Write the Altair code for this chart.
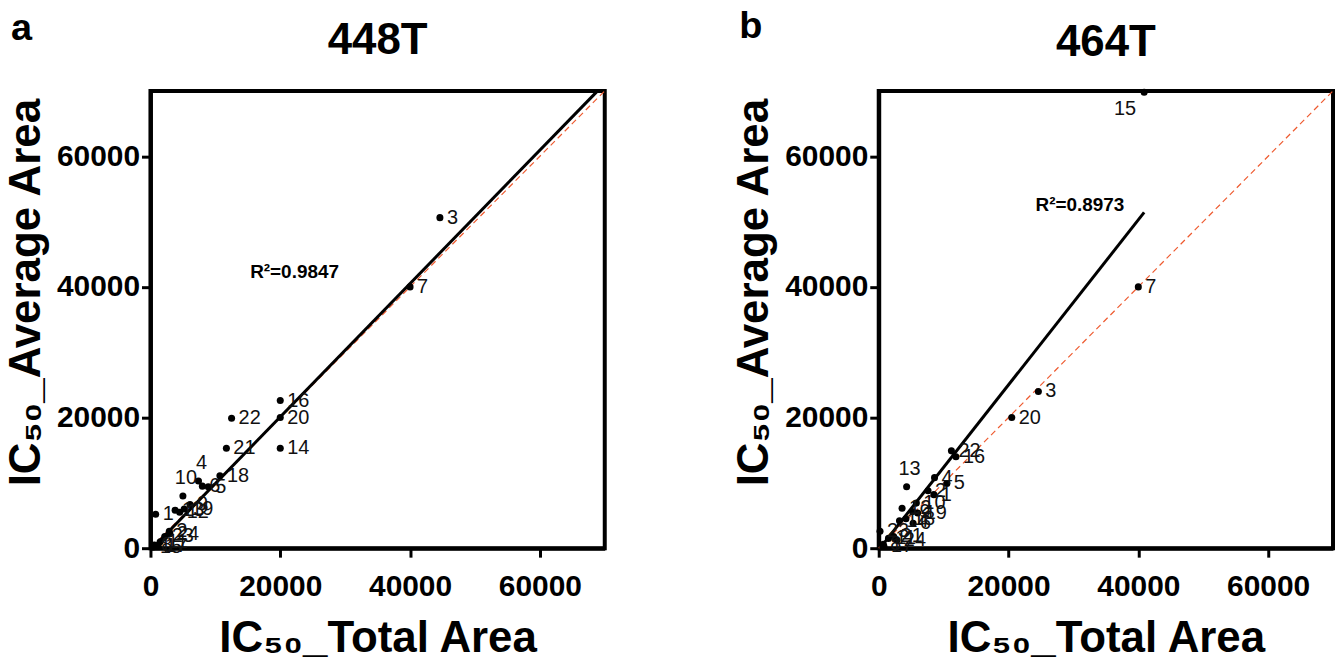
import altair as alt
import pandas as pd

ids = [str(i) for i in range(1, 25)]

# Panel a (448T)
a_total = [800, 2900, 44600, 7400, 8900, 8000, 40000, 600, 6100, 5000, 1500, 4500,
           3800, 20000, 400, 20000, 1200, 10700, 5200, 20000, 11700, 12500, 2200, 3000]
a_avg = [5200, 2600, 50600, 10300, 9400, 9500, 40000, 500, 6700, 8000, 1000, 5500,
         5800, 15300, 200, 22600, 300, 11100, 6000, 20000, 15300, 19900, 1800, 2200]
a_above = ["4", "10"]
a_below = []

# Panel b (464T)
b_total = [8500, 7600, 24600, 8600, 10500, 5300, 40000, 700, 5200, 5800, 1500, 3600,
           4300, 3200, 40900, 11900, 800, 4200, 6000, 20500, 2300, 11200, 200, 2800]
b_avg = [8200, 8800, 24000, 10800, 9900, 3800, 40000, 600, 5600, 6900, 1500, 6100,
         9400, 4200, 69800, 14000, 300, 4500, 5400, 20000, 1800, 14900, 2600, 1200]
b_above = ["13"]
b_below = ["15"]

# fitted lines (end points) and identity line
a_fit_x = [300, 68900]
a_fit_y = [0, 70000]
b_fit_x = [200, 40900]
b_fit_y = [0, 51400]
ident = [0, 70000]

tick_vals = [0, 20000, 40000, 60000]
dom = [0, 70000]

SANS = "Liberation Sans, Arial, Helvetica"
W, H = 456, 459


def axis(title, orient):
    kw = dict(values=tick_vals, format="d", title=title, grid=False,
              titleFontSize=44, titleFont=SANS, titleFontWeight="bold",
              titleColor="black", labelFontSize=30, labelFont=SANS,
              labelFontWeight="bold", labelColor="black", tickSize=9,
              tickWidth=3, tickColor="black", domainWidth=4,
              domainColor="black", labelFlush=False)
    if orient == "y":
        kw.update(labelPadding=2, titlePadding=8, titleY=202)
    else:
        kw.update(labelPadding=14, titlePadding=16)
    return alt.Axis(**kw)


def panel(total, avg, title, letter, fit_x, fit_y, r2, r2x, r2y, above_ids, below_ids,
          letter_y, title_y):
    df = pd.DataFrame({"id": ids, "total": total, "avg": avg})
    xs = alt.Scale(domain=dom, nice=False)
    ys = alt.Scale(domain=dom, nice=False)
    X = alt.X("total:Q", scale=xs, axis=axis("IC₅₀_Total Area", "x"))
    Y = alt.Y("avg:Q", scale=ys, axis=axis("IC₅₀_Average Area", "y"))

    ident_df = pd.DataFrame({"total": ident, "avg": ident})
    ident_line = alt.Chart(ident_df).mark_line(
        color="#ee5a2f", strokeWidth=1.2, strokeDash=[6, 4]).encode(x=X, y=Y)

    fit_df = pd.DataFrame({"total": fit_x, "avg": fit_y})
    fit_line = alt.Chart(fit_df).mark_line(color="black", strokeWidth=3).encode(x=X, y=Y)

    pts = alt.Chart(df).mark_circle(size=50, color="black", opacity=1).encode(x=X, y=Y)

    layers = [ident_line, fit_line, pts]
    special = above_ids + below_ids
    base_txt = dict(fontSize=20, font=SANS, color="#111")
    lab_main = alt.Chart(df).mark_text(align="left", baseline="middle", dx=7,
                                       **base_txt).encode(x=X, y=Y, text="id:N")
    if special:
        lab_main = lab_main.transform_filter(
            ~alt.FieldOneOfPredicate(field="id", oneOf=special))
    layers.append(lab_main)
    if above_ids:
        layers.append(alt.Chart(df).mark_text(align="center", baseline="bottom", dx=3,
                                              dy=-8, **base_txt).encode(
            x=X, y=Y, text="id:N").transform_filter(
            alt.FieldOneOfPredicate(field="id", oneOf=above_ids)))
    if below_ids:
        layers.append(alt.Chart(df).mark_text(align="right", baseline="top", dx=-8,
                                              dy=7, **base_txt).encode(
            x=X, y=Y, text="id:N").transform_filter(
            alt.FieldOneOfPredicate(field="id", oneOf=below_ids)))

    r2_df = pd.DataFrame({"total": [r2x], "avg": [r2y], "t": [r2]})
    r2_txt = alt.Chart(r2_df).mark_text(fontSize=19, font=SANS, fontWeight="bold",
                                        color="black").encode(x=X, y=Y, text="t:N")
    layers.append(r2_txt)

    let_df = pd.DataFrame({"l": [letter]})
    let_txt = alt.Chart(let_df).mark_text(fontSize=38, font=SANS, fontWeight="bold",
                                          align="left", baseline="alphabetic",
                                          color="black").encode(
        x=alt.value(-140), y=alt.value(letter_y), text="l:N")
    layers.append(let_txt)

    tt_df = pd.DataFrame({"t": [title]})
    tt_txt = alt.Chart(tt_df).mark_text(fontSize=44, font=SANS, fontWeight="bold",
                                        align="center", baseline="alphabetic",
                                        color="black").encode(
        x=alt.value(W / 2), y=alt.value(title_y), text="t:N")
    layers.append(tt_txt)

    return alt.layer(*layers).properties(width=W, height=H)


pa = panel(a_total, a_avg, "448T", "a", a_fit_x, a_fit_y, "R²=0.9847", 22200, 42300,
           a_above, a_below, -51, -37)
pb = panel(b_total, b_avg, "464T", "b", b_fit_x, b_fit_y, "R²=0.8973", 31000, 52500,
           b_above, b_below, -53, -35)

chart = alt.hconcat(
    pa, pb, spacing=121, background="white",
    padding={"left": -6, "top": -3, "right": -2, "bottom": -4},
).configure_view(stroke="black", strokeWidth=4)

chart.save("out.html", embed_options={"renderer": "svg", "actions": False})
